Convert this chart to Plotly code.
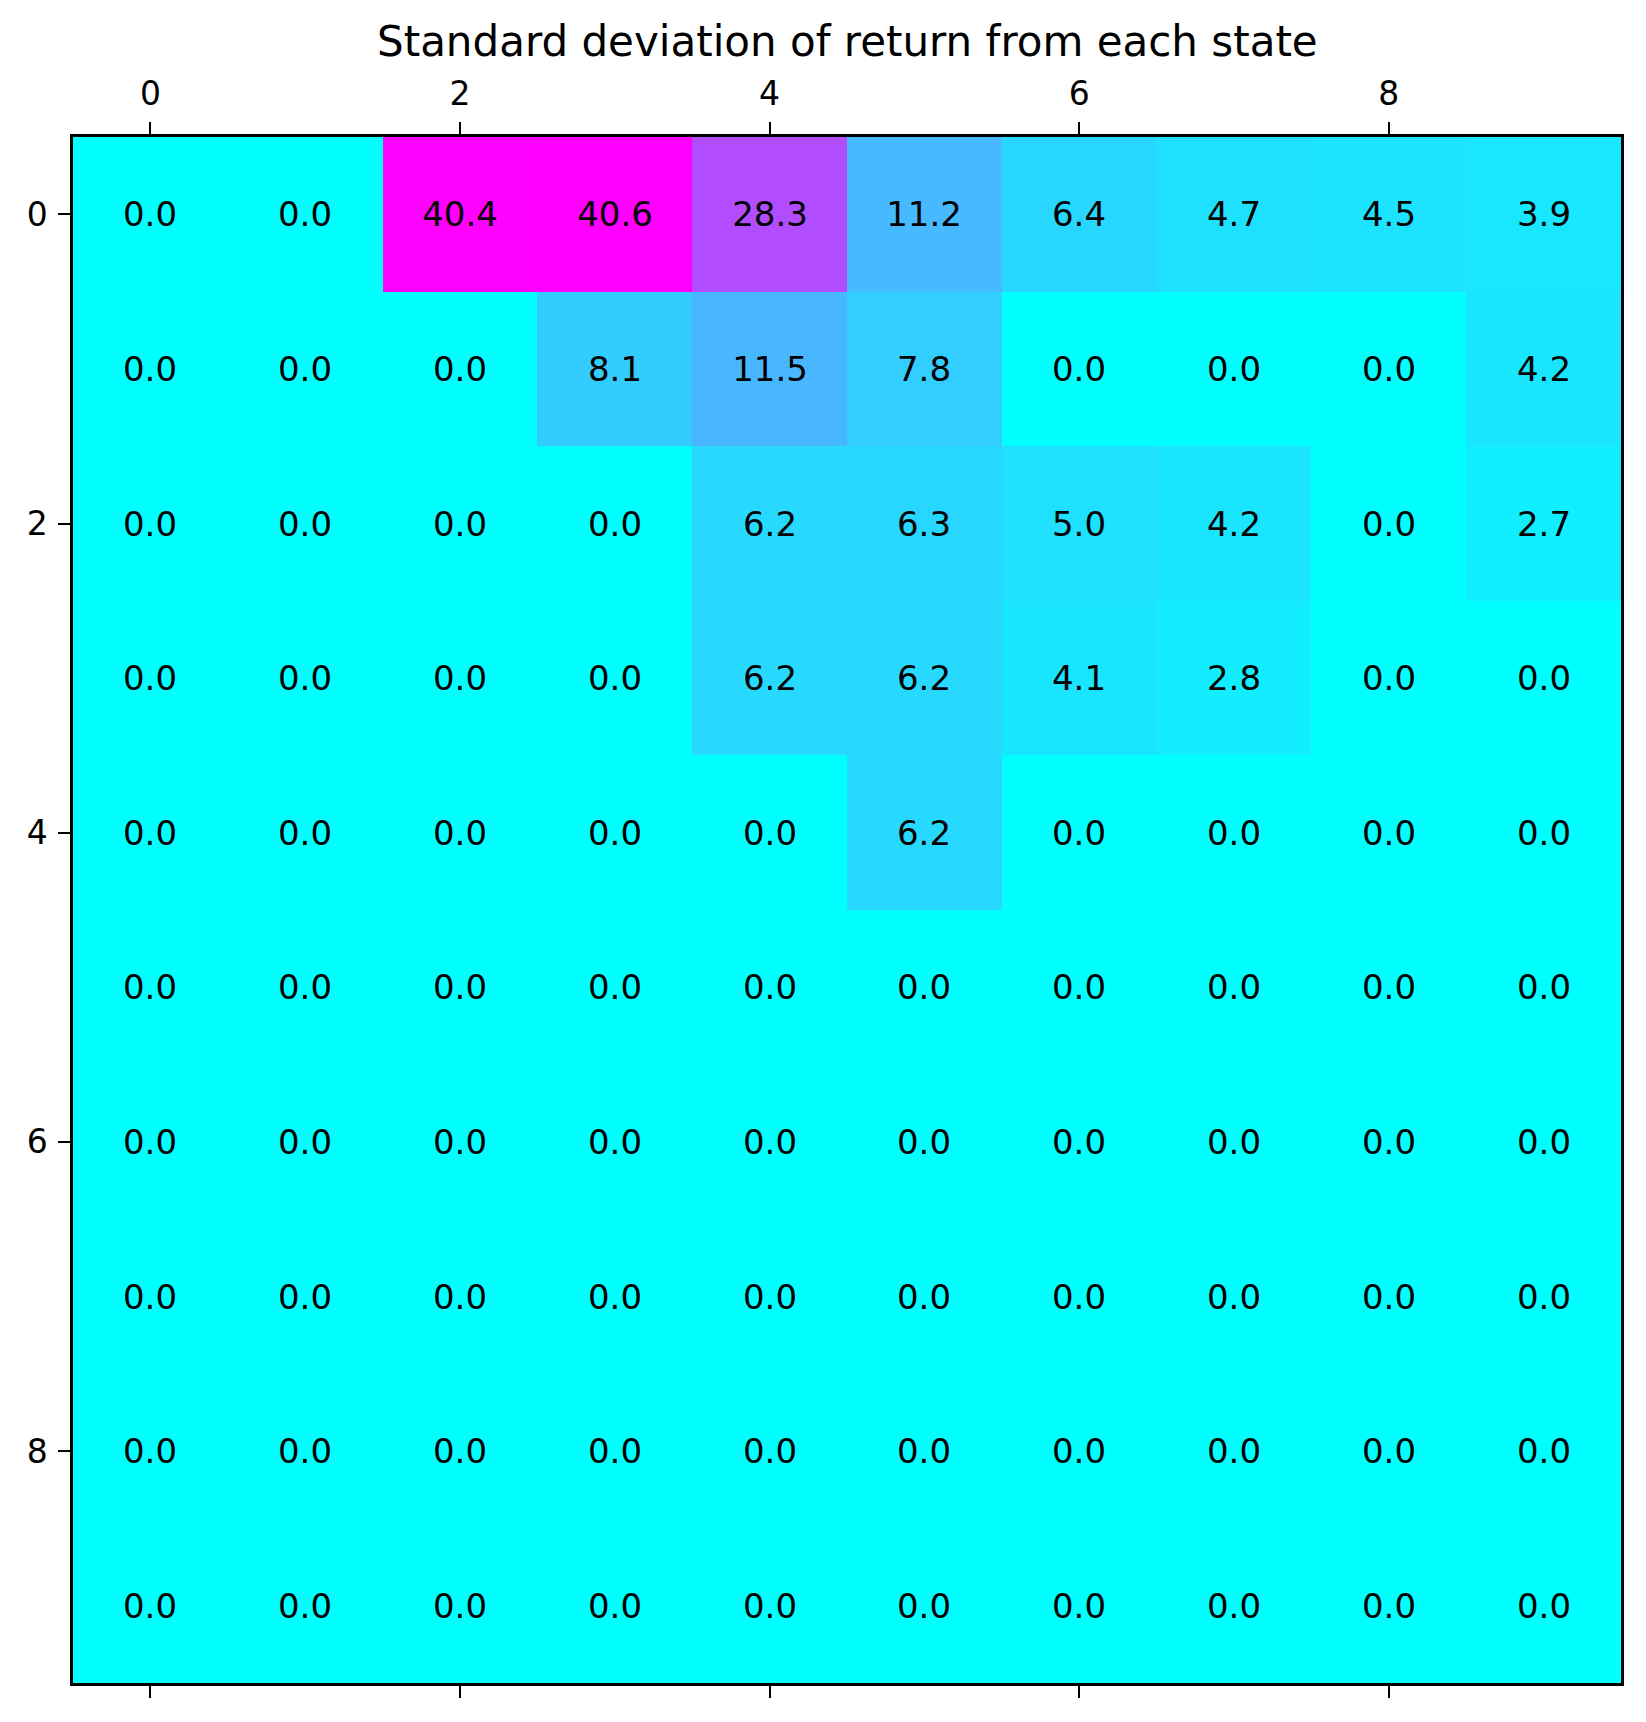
import plotly.graph_objects as go

cols = list(range(10))
rows = list(range(10))
values = [
    [0.0, 0.0, 40.4, 40.6, 28.3, 11.2, 6.4, 4.7, 4.5, 3.9],
    [0.0, 0.0, 0.0, 8.1, 11.5, 7.8, 0.0, 0.0, 0.0, 4.2],
    [0.0, 0.0, 0.0, 0.0, 6.2, 6.3, 5.0, 4.2, 0.0, 2.7],
    [0.0, 0.0, 0.0, 0.0, 6.2, 6.2, 4.1, 2.8, 0.0, 0.0],
    [0.0, 0.0, 0.0, 0.0, 0.0, 6.2, 0.0, 0.0, 0.0, 0.0],
    [0.0] * 10,
    [0.0] * 10,
    [0.0] * 10,
    [0.0] * 10,
    [0.0] * 10,
]
tick_vals = [0, 2, 4, 6, 8]
title_text = "Standard deviation of return from each state"

FONT = "DejaVu Sans"

fig = go.Figure(
    go.Heatmap(
        z=values,
        x=cols,
        y=rows,
        colorscale=[[0, "rgb(0,255,255)"], [1, "rgb(255,0,255)"]],
        zmin=0,
        zmax=max(max(r) for r in values),
        showscale=False,
        texttemplate="%{z:.1f}",
        textfont=dict(family=FONT, size=34, color="black"),
        xgap=0,
        ygap=0,
    )
)

# page body has an 8px default margin; figure sized so the page is 1646x1722
fig.update_layout(
    width=1630,
    height=1706,
    margin=dict(l=65, r=17, t=129, b=31, autoexpand=False),
    paper_bgcolor="white",
    plot_bgcolor="white",
    font=dict(family=FONT, color="black"),
    showlegend=False,
)

common = dict(
    tickmode="array",
    tickvals=tick_vals,
    ticktext=[str(v) for v in tick_vals],
    ticks="outside",
    ticklen=12,
    tickwidth=2,
    tickcolor="black",
    tickfont=dict(family=FONT, size=33, color="black"),
    showline=True,
    linecolor="black",
    linewidth=2.5,
    showgrid=False,
    zeroline=False,
    automargin=False,
    ticklabelstandoff=4,
)

fig.update_xaxes(side="top", range=[-0.5, 9.5], mirror="ticks", **common)
fig.update_yaxes(range=[9.5, -0.5], mirror=True, **common)

fig.add_annotation(
    text=title_text,
    x=0.5,
    y=1.062,
    xref="paper",
    yref="paper",
    xanchor="center",
    yanchor="middle",
    showarrow=False,
    font=dict(family=FONT, size=42, color="black"),
)

fig.write_html("out.html")
